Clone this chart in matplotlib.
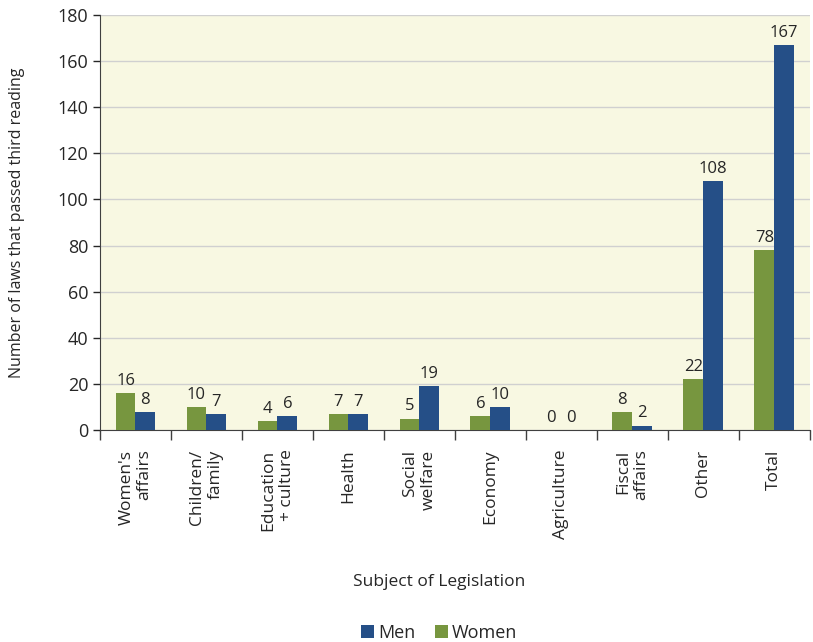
import numpy as np
import matplotlib.pyplot as plt

plt.rcParams['font.family'] = ['Open Sans', 'DejaVu Sans']

categories = ["Women's\naffairs", "Children/\nfamily", "Education\n+ culture", "Health",
              "Social\nwelfare", "Economy", "Agriculture", "Fiscal\naffairs", "Other", "Total"]
women = [16, 10, 4, 7, 5, 6, 0, 8, 22, 78]
men = [8, 7, 6, 7, 19, 10, 0, 2, 108, 167]

green = '#77963f'
blue = '#254f87'
txt = '#262626'

fig = plt.figure(figsize=(8.13, 6.42), dpi=100)
ax = fig.add_axes([0.123, 0.330, 0.873, 0.647])
ax.set_facecolor('#f8f8e2')

x = np.arange(len(categories))
w = 0.28
b_w = ax.bar(x - w / 2, women, w, color=green, label='Women', zorder=3)
b_m = ax.bar(x + w / 2, men, w, color=blue, label='Men', zorder=3)

for bars in (b_w, b_m):
    for r in bars:
        h = r.get_height()
        ax.annotate(str(int(h)), (r.get_x() + r.get_width() / 2, h),
                    xytext=(0, 3), textcoords='offset points',
                    ha='center', va='bottom', fontsize=12, color=txt)

ax.set_xlim(-0.5, len(categories) - 0.5)
ax.set_ylim(0, 180)
ax.set_yticks(range(0, 181, 20))
ax.yaxis.grid(True, color='#d0d0d0', linewidth=1, zorder=0)
ax.tick_params(axis='y', labelsize=13, colors=txt, length=5, width=1)

# category boundary ticks
ax.set_xticks(np.arange(-0.5, len(categories), 1))
ax.set_xticklabels([])
ax.tick_params(axis='x', length=7, width=1, color='#404040')
ax.set_xticks(x, minor=True)
ax.set_xticklabels(categories, minor=True, rotation=90, fontsize=12.5,
                   color=txt, multialignment='right', va='top', ha='center')
ax.tick_params(axis='x', which='minor', length=0, pad=14)

for s in ['top', 'right']:
    ax.spines[s].set_visible(False)
ax.spines['left'].set_color('#404040')
ax.spines['bottom'].set_color('#404040')

ax.set_ylabel('Number of laws that passed third reading', fontsize=11.5, color=txt, labelpad=23)
fig.text(0.54, 0.088, 'Subject of Legislation', ha='center', fontsize=12.5, color=txt)

leg = fig.legend(handles=[b_m, b_w], labels=['Men', 'Women'], loc='lower center',
                 bbox_to_anchor=(0.54, -0.025), ncol=2, frameon=False, fontsize=13,
                 handlelength=0.75, handleheight=0.75, handletextpad=0.2, columnspacing=1.1)
for t in leg.get_texts():
    t.set_color(txt)

fig.savefig('out.png', dpi=100)
